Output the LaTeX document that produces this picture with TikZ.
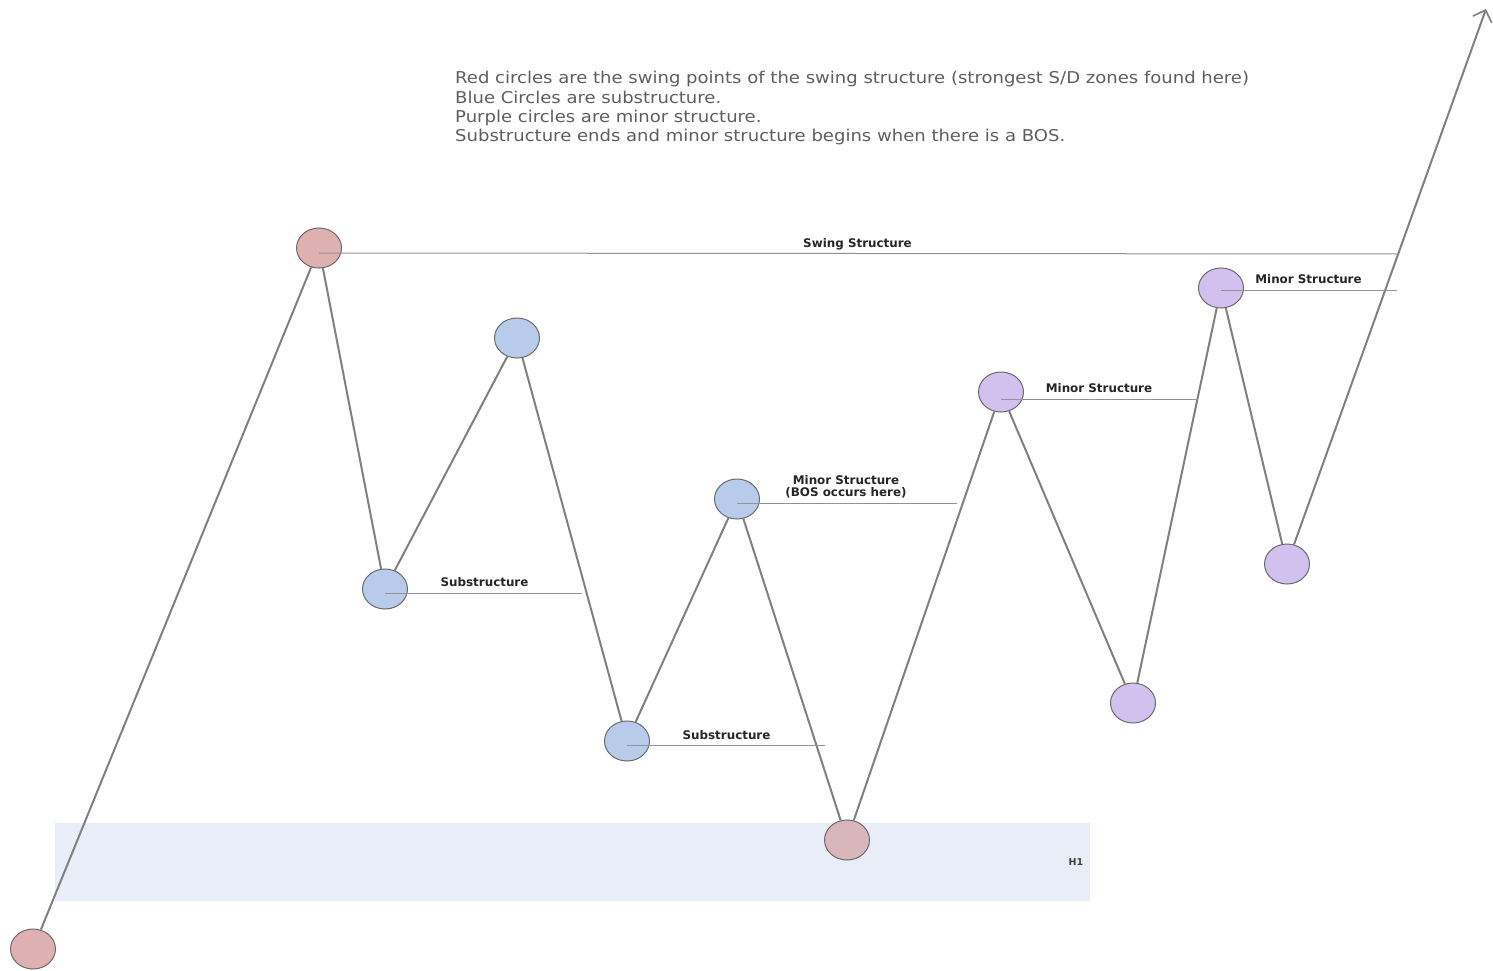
\documentclass[tikz,border=0pt]{standalone}
\usepackage{fontspec}
\setmainfont{DejaVu Sans}
\newfontfamily\notefont[FakeStretch=1.106]{DejaVu Sans}
\usetikzlibrary{shapes.geometric,arrows.meta,calc}
\definecolor{swingred}{HTML}{DFB0B1}
\definecolor{swingred2}{HTML}{D9B6BB}
\definecolor{subblue}{HTML}{B9CBEA}
\definecolor{minorpurple}{HTML}{D2C0EE}
\definecolor{zonefill}{HTML}{E8EDF7}
\definecolor{pathgray}{HTML}{808080}
\definecolor{rimgray}{HTML}{6A6A6A}
\definecolor{notegray}{HTML}{5E5E5E}
\tikzset{
  pt/.style={ellipse, draw=rimgray, line width=1pt, minimum width=45pt, minimum height=40pt, inner sep=0pt},
  red/.style={pt, fill=swingred},
  blue/.style={pt, fill=subblue},
  purple/.style={pt, fill=minorpurple},
  leg/.style={draw=pathgray, line width=2pt},
  level/.style={draw=pathgray!85, line width=1pt},
  lbl/.style={font=\fontsize{11.9}{13}\selectfont\bfseries, text=black!85, anchor=base, inner sep=0pt},
  note/.style={font=\notefont\fontsize{16.3}{19}\selectfont, text=notegray, anchor=base west, inner sep=0pt}
}
\begin{document}
\begin{tikzpicture}[x=1pt,y=-1pt]
\useasboundingbox (0,0) rectangle (1493,971);

% demand zone
\fill[zonefill] (55,823) rectangle (1090,901);
\node[font=\fontsize{9.5}{11}\selectfont\bfseries, text=black!75] (h1) at (1076,862) {H1};

% explanatory notes
\node[note] (n1) at (455,84) {Red circles are the swing points of the swing structure (strongest S/D zones found here)};
\node[note] (n2) at (455,103.3) {Blue Circles are substructure.};
\node[note] (n3) at (455,122.6) {Purple circles are minor structure.};
\node[note] (n4) at (455,142) {Substructure ends and minor structure begins when there is a BOS.};

% swing points
\node[red] (r1) at (33,949) {};
\node[red] (r2) at (319,248) {};
\node[blue] (b1) at (385,589) {};
\node[blue] (b2) at (517,338) {};
\node[blue] (b3) at (627,741) {};
\node[blue] (b4) at (737,499) {};
\node[pt, fill=swingred2] (r3) at (847,840) {};
\node[purple] (p1) at (1001,392) {};
\node[purple] (p2) at (1133,703) {};
\node[purple] (p3) at (1221,288) {};
\node[purple] (p4) at (1287,564) {};
\coordinate (top) at (1486,9);

% price path
\draw[leg] (r1) -- (r2);
\draw[leg] (r2) -- (b1);
\draw[leg] (b1) -- (b2);
\draw[leg] (b2) -- (b3);
\draw[leg] (b3) -- (b4);
\draw[leg] (b4) -- (r3);
\draw[leg] (r3) -- (p1);
\draw[leg] (p1) -- (p2);
\draw[leg] (p2) -- (p3);
\draw[leg] (p3) -- (p4);
\draw[leg, -{Straight Barb[length=10pt,width=20pt,line width=1.6pt]}] (p4) -- (top);

% structure levels
\coordinate (e2) at (1397,254);
\coordinate (eb1) at (582,593);
\coordinate (eb3) at (825,745);
\coordinate (eb4) at (957,503);
\coordinate (ep1) at (1198,399);
\coordinate (ep3) at (1397,290);
\draw[level] ($(r2.center)+(0,5)$) -- (e2);
\draw[level] ($(b1.center)+(0,4)$) -- (eb1);
\draw[level] ($(b3.center)+(0,4)$) -- (eb3);
\draw[level] ($(b4.center)+(0,4)$) -- (eb4);
\draw[level] ($(p1.center)+(0,7)$) -- (ep1);
\draw[level] ($(p3.center)+(0,2)$) -- (ep3);

\node[lbl] (l1) at (857.5,247) {Swing Structure};
\node[lbl] (l2) at (484.5,586) {Substructure};
\node[lbl] (l3) at (726.5,739) {Substructure};
\node[lbl] (l4) at (846,484) {Minor Structure};
\node[lbl] (l5) at (846,496) {(BOS occurs here)};
\node[lbl] (l6) at (1099,392) {Minor Structure};
\node[lbl] (l7) at (1308.5,283) {Minor Structure};
\end{tikzpicture}
\end{document}
